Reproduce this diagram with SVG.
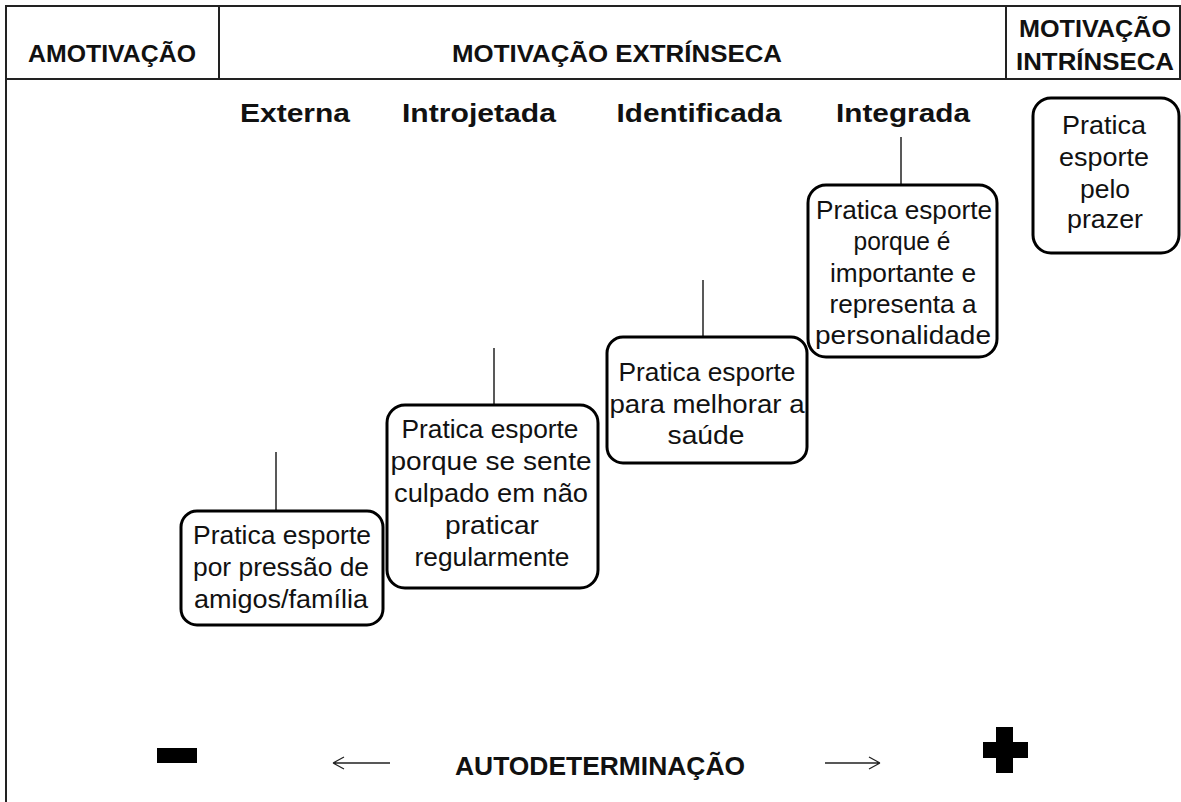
<svg xmlns="http://www.w3.org/2000/svg" width="1181" height="802" viewBox="0 0 1181 802">
<style>
.frame{fill:none;stroke:#222;stroke-width:2}
.box{fill:#fff;stroke:#000;stroke-width:3}
.conn{stroke:#222;stroke-width:1.5;fill:none}
.hd{font-family:"Liberation Sans",Arial,sans-serif;font-weight:bold;font-size:24px;fill:#111;text-anchor:middle}
.sub{font-family:"Liberation Sans",Arial,sans-serif;font-weight:bold;font-size:26px;fill:#111;text-anchor:middle}
.t{font-family:"Liberation Sans",Arial,sans-serif;font-size:25px;fill:#111;text-anchor:middle}
.arr{stroke:#222;stroke-width:1.3;fill:none}
</style>
<rect width="1181" height="802" fill="#fff"/>
<g id="frame">
<path class="frame" d="M6,802 V6 H1180 V79 H6 M219,6 V79 M1006,6 V79"/>
</g>
<g id="headers">
<text class="hd" x="112" y="62" textLength="168" lengthAdjust="spacingAndGlyphs">AMOTIVAÇÃO</text>
<text class="hd" x="617" y="62" textLength="330" lengthAdjust="spacingAndGlyphs">MOTIVAÇÃO EXTRÍNSECA</text>
<text class="hd" x="1095" y="37" textLength="152" lengthAdjust="spacingAndGlyphs">MOTIVAÇÃO</text>
<text class="hd" x="1095" y="70" textLength="158" lengthAdjust="spacingAndGlyphs">INTRÍNSECA</text>
<text class="sub" x="295" y="122" textLength="110" lengthAdjust="spacingAndGlyphs">Externa</text>
<text class="sub" x="479" y="122" textLength="154" lengthAdjust="spacingAndGlyphs">Introjetada</text>
<text class="sub" x="699" y="122" textLength="165" lengthAdjust="spacingAndGlyphs">Identificada</text>
<text class="sub" x="903" y="122" textLength="134" lengthAdjust="spacingAndGlyphs">Integrada</text>
</g>
<g id="connectors">
<line class="conn" x1="276" y1="452" x2="276" y2="511"/>
<line class="conn" x1="494" y1="348" x2="494" y2="405"/>
<line class="conn" x1="703" y1="280" x2="703" y2="337"/>
<line class="conn" x1="901" y1="137" x2="901" y2="185"/>
</g>
<g id="node-externa">
<rect class="box" x="181" y="511" width="202" height="114" rx="16"/>
<text class="t" x="282" y="544" textLength="178" lengthAdjust="spacingAndGlyphs">Pratica esporte</text>
<text class="t" x="281" y="576" textLength="176" lengthAdjust="spacingAndGlyphs">por pressão de</text>
<text class="t" x="281" y="608" textLength="174" lengthAdjust="spacingAndGlyphs">amigos/família</text>
</g>
<g id="node-introjetada">
<rect class="box" x="387" y="405" width="211" height="183" rx="18"/>
<text class="t" x="490" y="438" textLength="177" lengthAdjust="spacingAndGlyphs">Pratica esporte</text>
<text class="t" x="491" y="470" textLength="201" lengthAdjust="spacingAndGlyphs">porque se sente</text>
<text class="t" x="491" y="502" textLength="194" lengthAdjust="spacingAndGlyphs">culpado em não</text>
<text class="t" x="492" y="534" textLength="94" lengthAdjust="spacingAndGlyphs">praticar</text>
<text class="t" x="492" y="566" textLength="155" lengthAdjust="spacingAndGlyphs">regularmente</text>
</g>
<g id="node-identificada">
<rect class="box" x="607" y="337" width="200" height="126" rx="16"/>
<text class="t" x="707" y="381" textLength="177" lengthAdjust="spacingAndGlyphs">Pratica esporte</text>
<text class="t" x="707" y="413" textLength="195" lengthAdjust="spacingAndGlyphs">para melhorar a</text>
<text class="t" x="706" y="444" textLength="77" lengthAdjust="spacingAndGlyphs">saúde</text>
</g>
<g id="node-integrada">
<rect class="box" x="808" y="185" width="189" height="172" rx="18"/>
<text class="t" x="904" y="219" textLength="176" lengthAdjust="spacingAndGlyphs">Pratica esporte</text>
<text class="t" x="902" y="250" textLength="97" lengthAdjust="spacingAndGlyphs">porque é</text>
<text class="t" x="903" y="282" textLength="146" lengthAdjust="spacingAndGlyphs">importante e</text>
<text class="t" x="903" y="313" textLength="147" lengthAdjust="spacingAndGlyphs">representa a</text>
<text class="t" x="903" y="344" textLength="176" lengthAdjust="spacingAndGlyphs">personalidade</text>
</g>
<g id="node-intrinseca">
<rect class="box" x="1033" y="98" width="146" height="155" rx="18"/>
<text class="t" x="1104" y="134" textLength="84" lengthAdjust="spacingAndGlyphs">Pratica</text>
<text class="t" x="1104" y="166" textLength="90" lengthAdjust="spacingAndGlyphs">esporte</text>
<text class="t" x="1105" y="198" textLength="50" lengthAdjust="spacingAndGlyphs">pelo</text>
<text class="t" x="1105" y="228" textLength="76" lengthAdjust="spacingAndGlyphs">prazer</text>
</g>
<g id="scale">
<rect x="157" y="748" width="40" height="15" fill="#000"/>
<rect x="996" y="727" width="17" height="46" fill="#000"/>
<rect x="983" y="742" width="45" height="16" fill="#000"/>
<path class="arr" d="M333,763 H390 M333,763 L344,757 M333,763 L344,769"/>
<path class="arr" d="M825,763 H880 M880,763 L869,757 M880,763 L869,769"/>
<text class="hd" x="600" y="775" style="font-size:26px" textLength="290" lengthAdjust="spacingAndGlyphs">AUTODETERMINAÇÃO</text>
</g>
</svg>
